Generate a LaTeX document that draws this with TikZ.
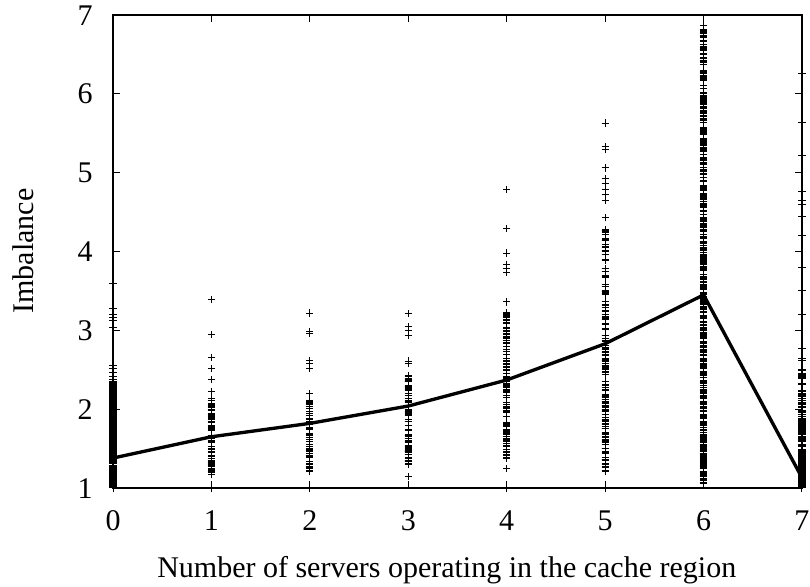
\documentclass[tikz,border=0pt]{standalone}
\usepackage{fontspec}
\setmainfont{Liberation Serif}
\begin{document}
\begin{tikzpicture}[x=0.75pt,y=0.75pt,
  frame/.style={line width=0.9pt},
  mk/.style={line width=0.75pt},
  meanline/.style={line width=2.5pt, line join=round},
  lbl/.style={font=\fontsize{22.5}{27}\selectfont, inner sep=0pt}]
\useasboundingbox (0,0) rectangle (810,586);
% one "+" marker at data point (#1,#2)
\newcommand\pmk[2]{\draw[mk] (#1,#2) +(-2.7pt,0) -- +(2.7pt,0) +(0,-2.7pt) -- +(0,2.7pt);}
% uniform scatter: column #1, count #2, from #3 over a span of #4
\newcommand\pcloud[4]{\foreach \k in {1,...,#2}{\pgfmathsetmacro\vv{#3+#4*rnd}\pmk{#1}{\vv}}}
\pgfmathsetseed{4242}
\begin{scope}[shift={(113,19.17)}, x=73.82pt, y=59.12pt]
  % scatter data
  \foreach \v in {3.6,3.28,3.2,3.16,3.12,3.04,2.56,2.52,2.47,2.42,2.38}{\pmk{0}{\v}}
  \pcloud{0}{420}{1.0}{1.35}
  \foreach \v in {3.39,2.95,2.66,2.52,2.38,2.22,1.0}{\pmk{1}{\v}}
  \pcloud{1}{90}{1.14}{1.0}
  \foreach \v in {3.22,2.98,2.96,2.62,2.58,2.52,2.2,1.0}{\pmk{2}{\v}}
  \pcloud{2}{65}{1.2}{0.92}
  \foreach \v in {3.21,3.05,3.0,2.94,2.61,2.58,1.15}{\pmk{3}{\v}}
  \pcloud{3}{80}{1.27}{1.16}
  \foreach \v in {4.79,4.29,3.98,3.83,3.78,3.73,3.36,1.25,1.0}{\pmk{4}{\v}}
  \pcloud{4}{140}{1.36}{1.9}
  \foreach \v in {5.63,5.33,5.29,5.06,4.93,4.86,4.79,4.72,4.65,4.43,1.0}{\pmk{5}{\v}}
  \pcloud{5}{160}{1.19}{3.12}
  \pmk{6}{6.87}
  \pcloud{6}{340}{1.05}{3.25}
  \pcloud{6}{220}{4.3}{2.52}
  \foreach \v in {6.26,5.64,5.22,4.76,4.65,4.6,4.45,4.2,3.8,3.5,3.2}{\pmk{7}{\v}}
  \foreach \k in {1,...,320}{\pgfmathsetmacro\vv{1.0+1.85*rnd*rnd}\pmk{7}{\vv}}
  % frame, ticks and tick labels
  \draw[frame] (0,1) rectangle (7,7);
  \foreach \i in {0,...,7}{
    \draw[frame] (\i,1) -- ++(0,5.25pt);
    \draw[frame] (\i,7) -- ++(0,-5.25pt);
    \node[lbl, anchor=base, yshift=-31.5pt] (xt\i) at (\i,1) {\i};
  }
  \foreach \v in {1,...,7}{
    \draw[frame] (0,\v) -- ++(5.25pt,0);
    \draw[frame] (7,\v) -- ++(-5.25pt,0);
    \node[lbl, anchor=base east, xshift=-15pt, yshift=-7.6pt] (yt\v) at (0,\v) {\v};
  }
  % mean curve
  \draw[meanline] (0,1.38) -- (1,1.65) -- (2,1.82) -- (3,2.04) -- (4,2.37)
    -- (5,2.83) -- (6,3.45) -- (7,1.13);
\end{scope}
\node[lbl, rotate=90, anchor=base] (ylab) at (33,335) {Imbalance};
\node[lbl, anchor=base west] (xlab) at (157,9) {Number of servers operating in the cache region};
\end{tikzpicture}
\end{document}
